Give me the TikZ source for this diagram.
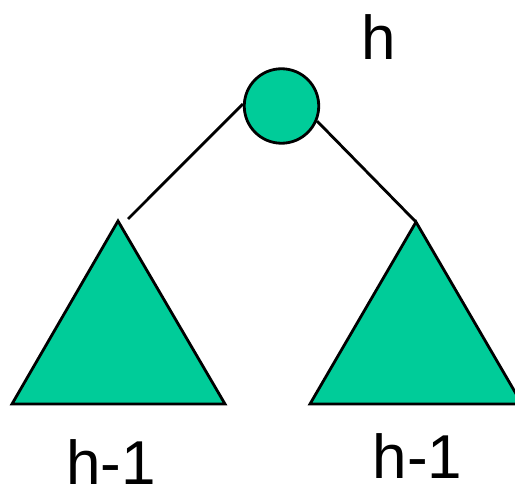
\documentclass[tikz,border=0pt]{standalone}
\usepackage{fontspec}
\setmainfont{Liberation Sans}
\definecolor{teal1}{HTML}{00CC99}
\begin{document}
\begin{tikzpicture}[x=1pt,y=-1pt,
  shapefill/.style={fill=teal1,draw=black,line width=2.8pt,line join=miter},
  edge/.style={draw=black,line width=2.8pt},
  lbl/.style={anchor=base,inner sep=0pt,font=\fontsize{62}{62}\selectfont}]
\useasboundingbox (0,0) rectangle (515,487);
\begin{scope}
\clip (0,0) rectangle (515,487);
\node[shapefill,circle,minimum size=74.5pt,inner sep=0pt] (root) at (281.5,106) {};
\coordinate (lapex) at (118,221);
\coordinate (lbl) at (12,404);
\coordinate (lbr) at (225,404);
\coordinate (rapex) at (416,222);
\coordinate (rbl) at (310,404);
\coordinate (rbr) at (522,404);
\coordinate (lend) at (128,219);
\path[shapefill] (lapex) -- (lbr) -- (lbl) -- cycle;
\path[shapefill] (rapex) -- (rbr) -- (rbl) -- cycle;
\draw[edge] (lend) -- (root.177);
\draw[edge] (root.-23) -- (rapex);
\end{scope}
\node[lbl] (th) at (379,60) {h};
\node[lbl] (tl) at (111,484) {h-1};
\node[lbl] (tr) at (417.5,478) {h-1};
\end{tikzpicture}
\end{document}
